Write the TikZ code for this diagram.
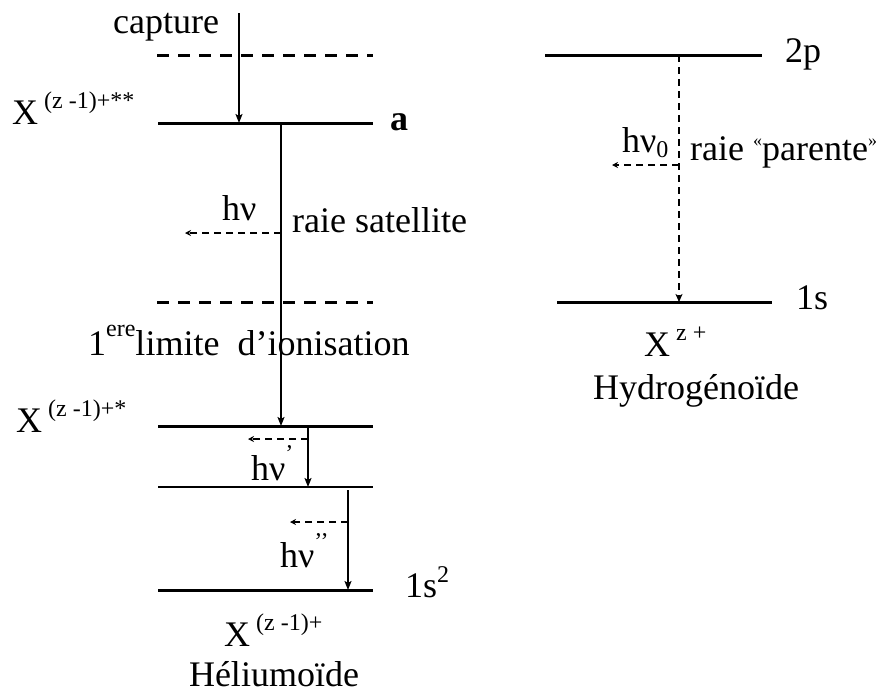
\documentclass[tikz,border=0pt]{standalone}
\usepackage{fontspec}
\setmainfont{Liberation Serif}
\usetikzlibrary{arrows.meta}
\newcommand{\supsz}{\fontsize{24}{24}\selectfont}
\newcommand{\guisz}{\fontsize{18}{18}\selectfont}
\begin{document}
\begin{tikzpicture}[x=1pt,y=-1pt,
  every node/.style={inner sep=0pt, font=\fontsize{36}{42}\selectfont},
  lbl/.style={anchor=base west},
  lvl/.style={line width=3pt},
  lvlthin/.style={line width=2pt},
  dlvl/.style={line width=3pt, dash pattern=on 12pt off 9pt},
  trans/.style={line width=1.8pt, -{Stealth[length=9pt,width=7pt,inset=2pt]}},
  dtrans/.style={line width=1.8pt, dash pattern=on 7pt off 5pt, -{Stealth[length=8pt,width=7pt,inset=2pt]}},
  photon/.style={line width=1.8pt, dash pattern=on 7pt off 5pt, -{Stealth[length=6pt,width=6pt,inset=2pt]}}]
\useasboundingbox (0,0) rectangle (885,691);

% ---- left diagram: levels ----
\coordinate (L0a) at (157,55);  \coordinate (L0b) at (373,55);
\coordinate (Laa) at (158,123); \coordinate (Lab) at (373,123);
\coordinate (Lia) at (157,302); \coordinate (Lib) at (373,302);
\coordinate (L1a) at (158,426); \coordinate (L1b) at (373,426);
\coordinate (L2a) at (158,487); \coordinate (L2b) at (373,487);
\coordinate (L3a) at (158,590); \coordinate (L3b) at (373,590);
\draw[dlvl] (L0a) -- (L0b);
\draw[lvl] (Laa) -- (Lab);
\draw[dlvl] (Lia) -- (Lib);
\draw[lvl] (L1a) -- (L1b);
\draw[lvlthin] (L2a) -- (L2b);
\draw[lvl] (L3a) -- (L3b);

% labels left
\node[lbl] (capt) at (113,33) {capture};
\node[lbl] (Xss) at (12,124) {X\hspace{6pt}\raisebox{16pt}{\supsz (z -1)+**}};
\node[lbl, font=\fontsize{36}{42}\selectfont\bfseries] (la) at (390,130) {a};
\node[lbl] (hv1) at (222,220) {hν};
\node[lbl] (sat) at (292,232) {raie satellite};
\node[lbl] (lim) at (88,355) {1\raisebox{19pt}{\supsz ere}limite\ \ d’ionisation};
\node[lbl] (Xs) at (16,432) {X\hspace{6pt}\raisebox{16pt}{\supsz (z -1)+*}};
\node[lbl] (hv2) at (251,480) {hν\raisebox{19pt}{\supsz ’}};
\node[lbl] (hv3) at (280,567) {hν\raisebox{18pt}{\supsz ’’}};
\node[lbl] (s2) at (405,597) {1s\raisebox{15pt}{\supsz 2}};
\node[lbl] (Xg) at (224,646) {X\hspace{6pt}\raisebox{16pt}{\supsz (z -1)+}};
\node[anchor=base] (he) at (274,686) {Héliumoïde};

% transitions left
\coordinate (c0) at (239,13);  \coordinate (c1) at (239,123);
\coordinate (t0) at (281,123); \coordinate (t1) at (281,426);
\coordinate (p1a) at (281,233); \coordinate (p1b) at (185,233);
\coordinate (u0) at (308,426); \coordinate (u1) at (308,487);
\coordinate (p2a) at (308,439); \coordinate (p2b) at (248,439);
\coordinate (w0) at (348,490); \coordinate (w1) at (348,590);
\coordinate (p3a) at (348,522); \coordinate (p3b) at (290,522);
\draw[trans] (c0) -- (c1);
\draw[trans] (t0) -- (t1);
\draw[photon] (p1a) -- (p1b);
\draw[trans] (u0) -- (u1);
\draw[photon] (p2a) -- (p2b);
\draw[trans] (w0) -- (w1);
\draw[photon] (p3a) -- (p3b);

% ---- right diagram ----
\coordinate (R2a) at (545,55);  \coordinate (R2b) at (762,55);
\coordinate (R1a) at (557,302); \coordinate (R1b) at (772,302);
\draw[lvl] (R2a) -- (R2b);
\draw[lvl] (R1a) -- (R1b);
\node[lbl] (p2) at (785,62) {2p};
\node[lbl] (s1) at (796,309) {1s};
\node[lbl] (hv0) at (622,152) {hν\raisebox{-5pt}{\supsz 0}};
\node[lbl] (par) at (690,160) {raie \raisebox{14pt}{\guisz «}parente\raisebox{14pt}{\guisz »}};
\node[lbl] (Xz) at (644,356) {X\hspace{6pt}\raisebox{16pt}{\supsz z +}};
\node[lbl] (hyd) at (593,399) {Hydrogénoïde};
\coordinate (r0) at (679,55); \coordinate (r1) at (679,302);
\coordinate (p0a) at (679,165); \coordinate (p0b) at (612,165);
\draw[dtrans] (r0) -- (r1);
\draw[photon] (p0a) -- (p0b);
\end{tikzpicture}
\end{document}
